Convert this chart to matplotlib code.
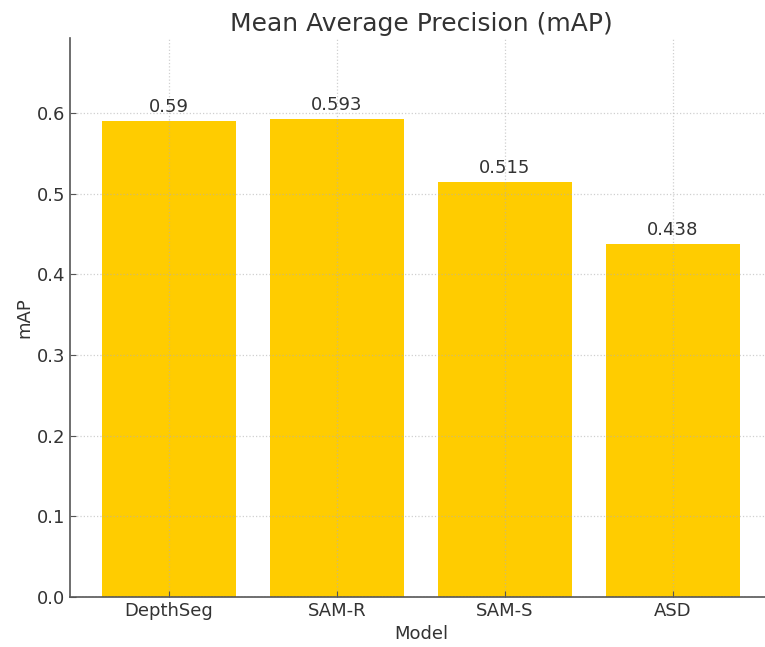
import matplotlib.pyplot as plt

# mAP per model
models = ['DepthSeg', 'SAM-R', 'SAM-S', 'ASD']
map_scores = [0.59, 0.593, 0.515, 0.438]

text_color = '#333333'
bar_color = '#FFCC00'

fig = plt.figure(figsize=(7.65, 6.47), dpi=100)
ax = fig.add_axes([70 / 765, 50 / 647, 702 / 765, 559 / 647])

bars = ax.bar(models, map_scores, width=0.8, color=bar_color, zorder=1)

# value labels above each bar
for bar, v in zip(bars, map_scores):
    ax.text(bar.get_x() + bar.get_width() / 2, v + 0.006, f'{v:g}',
            ha='center', va='bottom', fontsize=13, color=text_color)

ax.set_ylim(0, 0.693)
ax.set_xlim(-0.59, 3.59)
ax.set_yticks([0.0, 0.1, 0.2, 0.3, 0.4, 0.5, 0.6])

# dotted grid drawn faintly over the bars
ax.grid(True, linestyle=':', color='#b0b0b0', linewidth=0.9, alpha=0.6, zorder=2)
ax.set_axisbelow(False)

for side in ['top', 'right']:
    ax.spines[side].set_visible(False)
for side in ['left', 'bottom']:
    ax.spines[side].set_color('#555555')
    ax.spines[side].set_linewidth(1.2)

ax.tick_params(axis='both', labelsize=13, labelcolor=text_color,
               color='#555555', direction='in', length=4)

ax.set_title('Mean Average Precision (mAP)', fontsize=18, color=text_color, pad=5)
ax.set_xlabel('Model', fontsize=13, color=text_color, labelpad=4)
ax.set_ylabel('mAP', fontsize=13, color=text_color, labelpad=2)

fig.savefig('out.png', dpi=100)
